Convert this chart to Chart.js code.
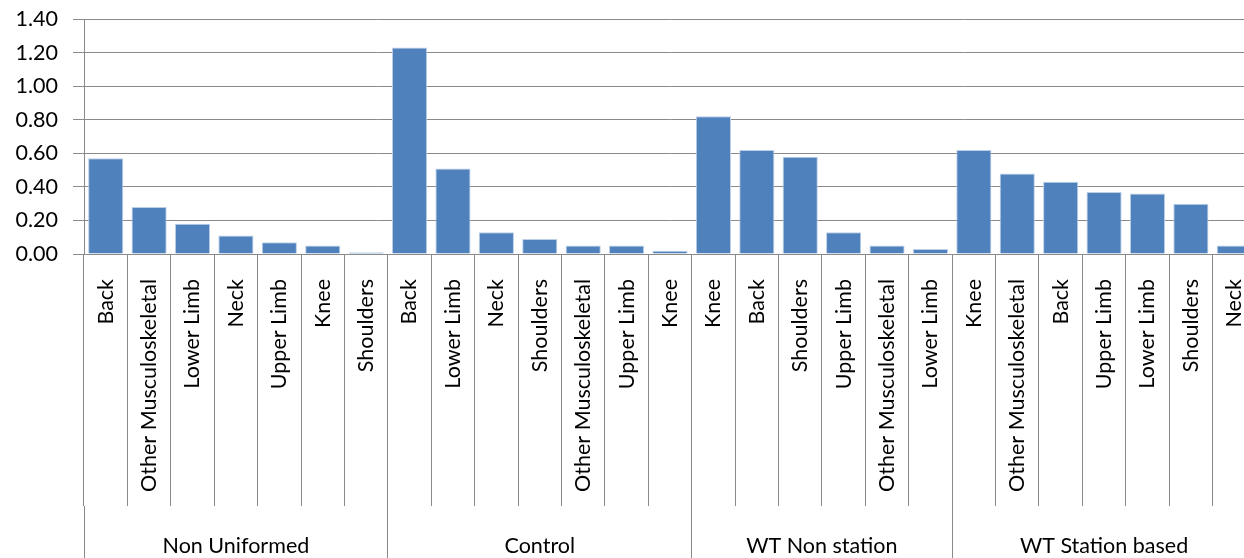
<!DOCTYPE html>
<html>
<head>
<meta charset="utf-8">
<script src="https://cdn.jsdelivr.net/npm/chart.js@4.4.1/dist/chart.umd.min.js"></script>
<style>
  html, body { margin: 0; padding: 0; background: #fff; overflow: hidden; }
  #wrap { position: relative; width: 1262px; height: 566px; }
</style>
</head>
<body>
<div id="wrap"><canvas id="chart"></canvas></div>
<script>
// Injury rates by body part, grouped by workforce category
const groups = ['Non Uniformed', 'Control', 'WT Non station', 'WT Station based'];

const nonUniformedParts = ['Back', 'Other Musculoskeletal', 'Lower Limb', 'Neck', 'Upper Limb', 'Knee', 'Shoulders'];
const nonUniformedRates = [0.57, 0.28, 0.18, 0.11, 0.07, 0.05, 0.01];

const controlParts = ['Back', 'Lower Limb', 'Neck', 'Shoulders', 'Other Musculoskeletal', 'Upper Limb', 'Knee'];
const controlRates = [1.23, 0.51, 0.13, 0.09, 0.05, 0.05, 0.02];

const wtNonStationParts = ['Knee', 'Back', 'Shoulders', 'Upper Limb', 'Other Musculoskeletal', 'Lower Limb'];
const wtNonStationRates = [0.82, 0.62, 0.58, 0.13, 0.05, 0.03];

const wtStationParts = ['Knee', 'Other Musculoskeletal', 'Back', 'Upper Limb', 'Lower Limb', 'Shoulders', 'Neck'];
const wtStationRates = [0.62, 0.48, 0.43, 0.37, 0.36, 0.30, 0.05];

const yMin = 0;
const yMax = 1.4;
const yStep = 0.2;

// Flatten the groups into one category axis
const partLists = [nonUniformedParts, controlParts, wtNonStationParts, wtStationParts];
const rateLists = [nonUniformedRates, controlRates, wtNonStationRates, wtStationRates];
const partLabels = [].concat(...partLists);
const rates = [].concat(...rateLists);
const total = partLabels.length;

// Ticks for the outer (group) axis: separators at group edges, names at group centres
const groupTicks = [];
let start = 0;
groupTicks.push({ value: -0.5, edge: true });
partLists.forEach((list, i) => {
  const end = start + list.length;
  groupTicks.push({ value: (start + end - 1) / 2, name: groups[i] });
  groupTicks.push({ value: end - 0.5, edge: true });
  start = end;
});

const axisGray = '#8a8a8a';
const textFont = { family: 'Lato', size: 21.5 };

new Chart(document.getElementById('chart'), {
  type: 'bar',
  data: {
    labels: partLabels,
    datasets: [{
      data: rates,
      xAxisID: 'x',
      yAxisID: 'y',
      backgroundColor: '#4F81BD',
      borderColor: '#bccfe6',
      borderWidth: 1,
      barPercentage: 0.81,
      categoryPercentage: 1
    }]
  },
  options: {
    responsive: true,
    maintainAspectRatio: false,
    animation: false,
    layout: { padding: { top: 19, right: 6, bottom: 0, left: 0 } },
    plugins: { legend: { display: false }, tooltip: { enabled: false } },
    scales: {
      x: {
        type: 'category',
        axis: 'x',
        position: 'bottom',
        weight: 0,
        offset: true,
        grid: { offset: true, drawOnChartArea: false, color: axisGray, lineWidth: 1, tickLength: 252 },
        border: { color: axisGray, width: 1 },
        ticks: { minRotation: 90, maxRotation: 90, autoSkip: false, padding: -227, color: '#000', font: textFont },
        afterFit(scale) {
          scale.height = 252;
          scale.paddingLeft = 0;
          scale.paddingRight = 0;
        }
      },
      group: {
        type: 'linear',
        axis: 'x',
        position: 'bottom',
        weight: 1,
        offset: false,
        min: -0.5,
        max: total - 0.5,
        grid: {
          offset: false,
          drawOnChartArea: false,
          tickLength: 60,
          lineWidth: 1,
          color: (c) => (c.tick && c.tick.edge ? axisGray : 'rgba(0,0,0,0)')
        },
        border: { display: false },
        ticks: {
          autoSkip: false,
          minRotation: 0,
          maxRotation: 0,
          padding: -33,
          color: '#000',
          font: textFont,
          callback: (v, i, ticks) => ticks[i].name || ''
        },
        afterBuildTicks(scale) { scale.ticks = groupTicks.map(t => Object.assign({}, t)); },
        afterFit(scale) {
          scale.height = 60;
          scale.paddingLeft = 0;
          scale.paddingRight = 0;
        }
      },
      y: {
        min: yMin,
        max: yMax,
        grid: { color: axisGray, lineWidth: 1, tickLength: 11 },
        border: { color: axisGray, width: 1 },
        ticks: { stepSize: yStep, padding: 15, color: '#000', font: textFont, callback: (v) => Number(v).toFixed(2) },
        afterFit(scale) {
          scale.width = 84;
          scale.paddingTop = 0;
          scale.paddingBottom = 0;
        }
      }
    }
  }
});
</script>
</body>
</html>
